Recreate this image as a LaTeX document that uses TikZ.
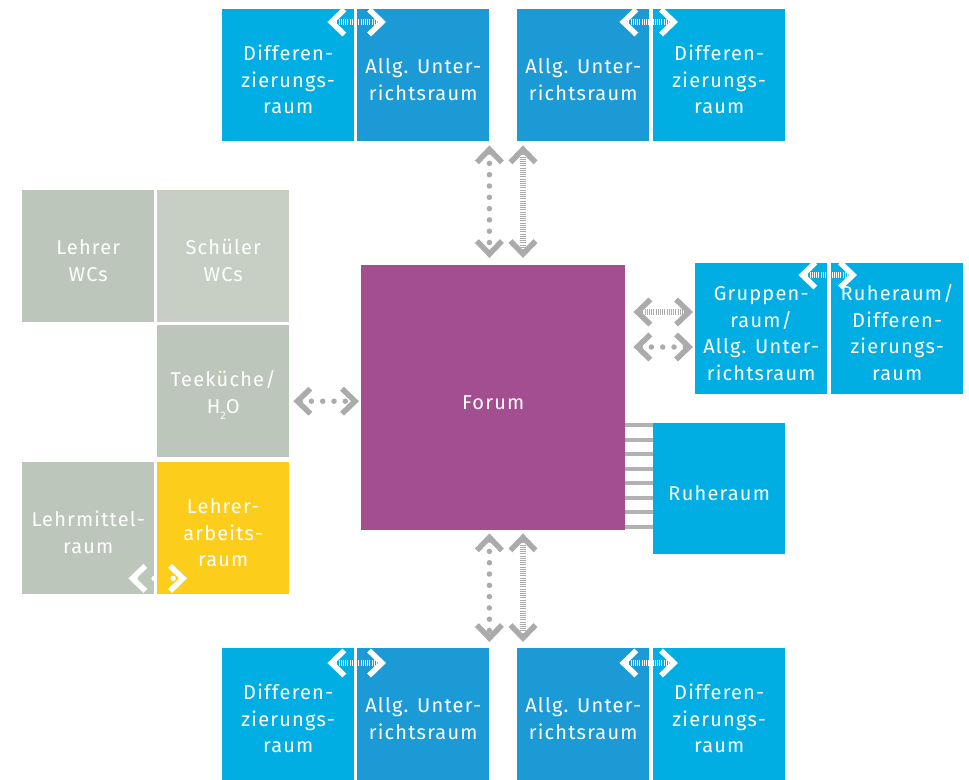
\documentclass[tikz,border=0pt]{standalone}
\usepackage{fontspec}
\setmainfont{Fira Sans}[LetterSpace=6]
\usetikzlibrary{arrows.meta,calc}
\definecolor{cyanR}{HTML}{00AEE3}
\definecolor{blueR}{HTML}{1B9AD6}
\definecolor{purR}{HTML}{A24E91}
\definecolor{yelR}{HTML}{FDCD1B}
\definecolor{grayR}{HTML}{BDC6BB}
\definecolor{grayL}{HTML}{C7CFC5}
\definecolor{arrR}{HTML}{ABABAB}
\definecolor{stripeR}{HTML}{B2B2B2}
\newcommand\roomfont{\fontsize{20}{26.5}\selectfont}
\newcommand\tstrut{\rule{0pt}{24pt}}
\begin{document}
\begin{tikzpicture}[x=1pt,y=-1pt,
  room/.style={minimum width=132pt, minimum height=132pt, inner sep=0pt,
    text=white, align=center, font=\roomfont, anchor=north west, draw=none},
  >={Straight Barb[length=13pt,width=25pt]},
  dotline/.style={line width=5.5pt, dash pattern=on 0pt off 11.3pt, line cap=round, <->},
  hatchline/.style={line width=5.5pt, dash pattern=on 1pt off 1.2pt, <->},
  wdot/.style={line width=5.5pt, dash pattern=on 0pt off 19pt, line cap=round, <->},
  garr/.style={draw=arrR},
  warr/.style={draw=white}]
\useasboundingbox (0,0) rectangle (969,779);
% top pairs
\node[room, fill=cyanR] (TLD) at (222,9) {\tstrut Differen-\\zierungs-\\raum};
\node[room, fill=blueR] (TLA) at (357,9) {\tstrut Allg. Unter-\\richtsraum};
\node[room, fill=blueR] (TRA) at (517,9) {\tstrut Allg. Unter-\\richtsraum};
\node[room, fill=cyanR] (TRD) at (653,9) {\tstrut Differen-\\zierungs-\\raum};
% bottom pairs
\node[room, fill=cyanR] (BLD) at (222,648) {\tstrut Differen-\\zierungs-\\raum};
\node[room, fill=blueR] (BLA) at (357,648) {\tstrut Allg. Unter-\\richtsraum};
\node[room, fill=blueR] (BRA) at (517,648) {\tstrut Allg. Unter-\\richtsraum};
\node[room, fill=cyanR] (BRD) at (653,648) {\tstrut Differen-\\zierungs-\\raum};
% right
\node[room, fill=cyanR, minimum height=131pt] (GR) at (695,263) {\tstrut Gruppen-\\raum/\\Allg. Unter-\\richtsraum};
\node[room, fill=cyanR, minimum height=131pt] (RD) at (831,263) {\tstrut Ruheraum/\\Differen-\\zierungs-\\raum};
\node[room, fill=cyanR, minimum height=131pt] (RU) at (653,423) {\tstrut Ruheraum};
% left
\node[room, fill=grayR] (LW) at (22,190) {\tstrut Lehrer\\WCs};
\node[room, fill=grayL] (SW) at (157,190) {\tstrut Schüler\\WCs};
\node[room, fill=grayR] (TK) at (157,325) {\tstrut Teeküche/\\H\raisebox{-6pt}{\fontsize{11}{11}\selectfont 2}O};
\node[room, fill=grayR] (LM) at (22,462) {\tstrut Lehrmittel-\\raum};
\node[room, fill=yelR] (LA) at (157,462) {\tstrut Lehrer-\\arbeits-\\raum};
% forum
\node[room, fill=purR, minimum width=264pt, minimum height=265pt] (F) at (361,265) {\tstrut Forum};
% stripes
\foreach \yy in {425,439.5,454,468.5,483,497.5,512,526.5}
  \fill[stripeR] (625,\yy-2) rectangle (653,\yy+2);
% gray arrows top
\draw[garr,dotline] ($(TLA.south east)+(0,4)$) -- ($(F.north -| TLA.east)+(0,-7)$);
\draw[garr,hatchline] ($(TRA.south west)+(6,4)$) -- ($(F.north -| TRA.west)+(6,-7)$);
% gray arrows bottom
\draw[garr,dotline] ($(F.south -| BLA.east)+(0,3)$) -- ($(BLA.north east)+(0,-6)$);
\draw[garr,hatchline] ($(F.south -| BRA.west)+(6,3)$) -- ($(BRA.north west)+(6,-6)$);
% gray arrows left/right
\draw[garr,dotline] ($(TK.east)+(4,10)$) -- ($(F.west |- TK.east)+(-2,10)$);
\draw[garr,hatchline] ($(F.east |- GR.north)+(8,49)$) -- ($(GR.north west)+(-2,49)$);
\draw[garr,dotline] ($(F.east |- GR.north)+(8,84)$) -- ($(GR.north west)+(-2,84)$);
% white arrows inside pairs
\draw[warr,hatchline] ($(TLD.north east)+(-27,13)$) -- ($(TLA.north west)+(29,13)$);
\draw[warr,hatchline] ($(TRA.north east)+(-30,13)$) -- ($(TRD.north west)+(25,13)$);
\draw[warr,hatchline] ($(BLD.north east)+(-27,15)$) -- ($(BLA.north west)+(29,15)$);
\draw[warr,hatchline] ($(BRA.north east)+(-30,15)$) -- ($(BRD.north west)+(25,15)$);
\draw[warr,hatchline] ($(GR.north east)+(-29,12)$) -- ($(RD.north west)+(26,12)$);
\draw[warr,wdot] ($(LM.south east)+(-26,-16)$) -- ($(LA.south west)+(30,-16)$);
\end{tikzpicture}
\end{document}
